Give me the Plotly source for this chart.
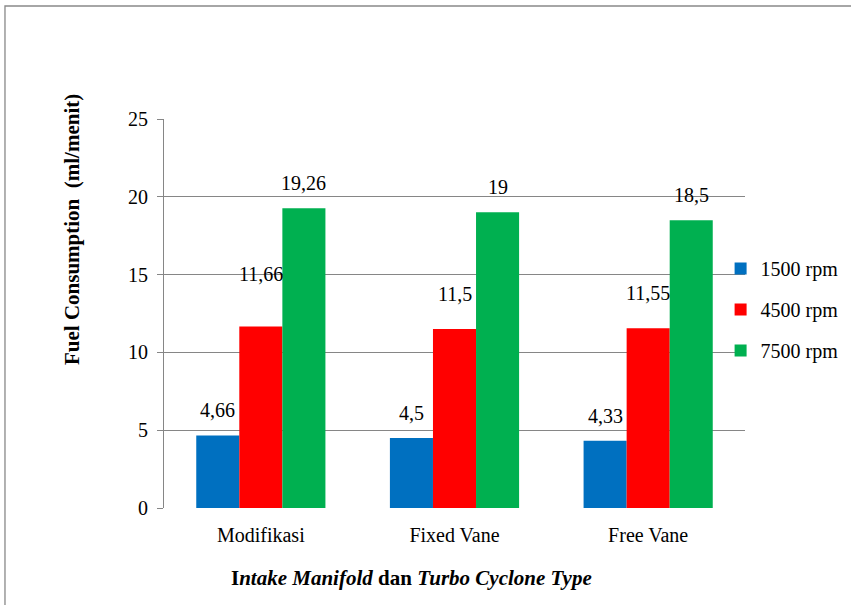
import plotly.graph_objects as go

categories = ["Modifikasi", "Fixed Vane", "Free Vane"]
series_names = ["1500 rpm", "4500 rpm", "7500 rpm"]
rpm1500 = [4.66, 4.5, 4.33]
rpm4500 = [11.66, 11.5, 11.55]
rpm7500 = [19.26, 19, 18.5]
label_1500 = ["4,66", "4,5", "4,33"]
label_4500 = ["11,66", "11,5", "11,55"]
label_7500 = ["19,26", "19", "18,5"]
y_ticks = [0, 5, 10, 15, 20, 25]

colors = ["#0070C0", "#FF0000", "#00B050"]
label_shift = [[12, 12, 12], [40, 22, 22], [12, 12, 12]]  # px above bar (style)
FONT = "Liberation Serif, Times New Roman, serif"

values = [rpm1500, rpm4500, rpm7500]
labels = [label_1500, label_4500, label_7500]

fig = go.Figure()
for i, (name, vals) in enumerate(zip(series_names, values)):
    fig.add_trace(go.Bar(x=categories, y=vals, name=name, marker_color=colors[i],
                         marker_line_width=0, legendgroup=name))

bar_w = (1 - 0.333) / 3
annotations = []
for i in range(3):
    for j in range(3):
        annotations.append(dict(x=j + (i - 1) * bar_w, y=values[i][j], xref="x", yref="y",
                                text=labels[i][j], showarrow=False, yanchor="bottom",
                                yshift=label_shift[i][j],
                                font=dict(family=FONT, size=20, color="#000")))

annotations.append(dict(x=(411 - 164) / 581, y=(508 - 578) / 389, xref="paper", yref="paper",
                        showarrow=False, xanchor="center", yanchor="middle",
                        text="<b>I<i>ntake Manifold</i> dan <i>Turbo Cyclone Type</i></b>",
                        font=dict(family=FONT, size=21, color="#000")))
annotations.append(dict(x=(72 - 164) / 581, y=(508 - 230) / 389, xref="paper", yref="paper",
                        showarrow=False, xanchor="center", yanchor="middle",
                        textangle=-90, text="<b>Fuel Consumption  (ml/menit)</b>",
                        font=dict(family=FONT, size=21, color="#000")))

fig.update_layout(
    width=851, height=605,
    margin=dict(l=164, r=106, t=119, b=97, autoexpand=False),
    paper_bgcolor="white", plot_bgcolor="white",
    barmode="group", bargap=0.333, bargroupgap=0,
    font=dict(family=FONT, size=20, color="#000"),
    showlegend=True,
    legend=dict(x=0.958, y=0.666, xanchor="left", yanchor="top", bgcolor="rgba(255,255,255,0)",
                font=dict(family=FONT, size=20, color="#000"), tracegroupgap=12,
                traceorder="grouped"),
    annotations=annotations,
    shapes=[dict(type="rect", xref="paper", yref="paper", x0=-0.2737, x1=1.6, y0=-0.6, y1=1.2905,
                 line=dict(color="#898989", width=1.3), layer="below")],
)
fig.update_xaxes(showline=False, showgrid=False, ticks="", ticklabelstandoff=13,
                 tickfont=dict(family=FONT, size=20, color="#000"))
fig.update_yaxes(range=[0, 25], tickvals=y_ticks, showgrid=True, gridcolor="#868686", gridwidth=1,
                 showline=True, linecolor="#868686", linewidth=1, ticks="outside", ticklen=6,
                 tickcolor="#868686", zeroline=False, ticklabelstandoff=5,
                 tickfont=dict(family=FONT, size=20, color="#000"))
fig.write_html("out.html", config={"displayModeBar": False},
               post_script="document.body.style.margin='0';")
